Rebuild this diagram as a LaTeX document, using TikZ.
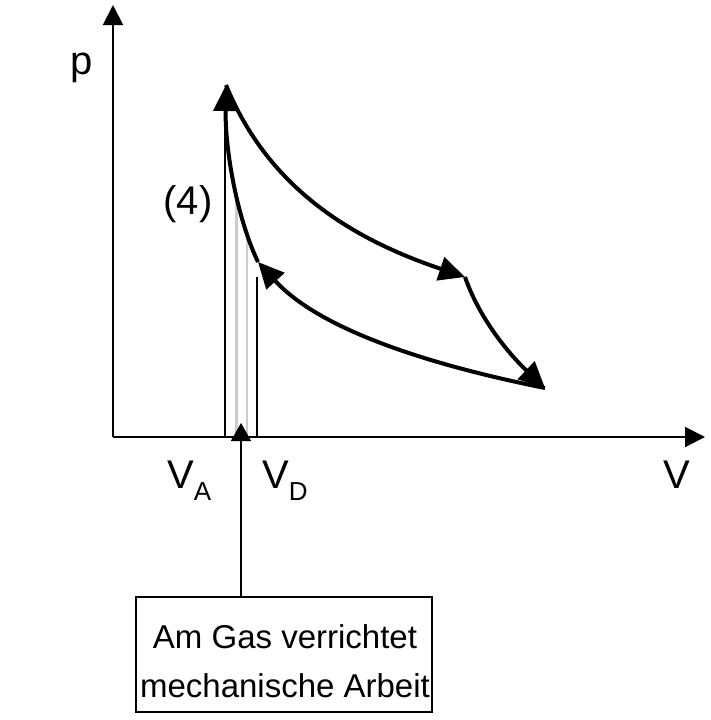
\documentclass[tikz,border=0pt]{standalone}
\usepackage{fontspec}
\setmainfont{Liberation Sans}
\usetikzlibrary{arrows.meta}
\tikzset{
  axisline/.style={line width=2pt,-{Triangle[length=20pt,width=20pt]}},
  cycleline/.style={line width=4pt,-{Triangle[length=26pt,width=24pt]}},
  symb/.style={font=\fontsize{40}{40}\selectfont,inner sep=0pt},
  boxtext/.style={font=\fontsize{33}{33}\selectfont,inner sep=0pt,anchor=base},
}
\begin{document}
\begin{tikzpicture}[x=1pt,y=-1pt]
\useasboundingbox (0,0) rectangle (711,720);
\coordinate (O) at (113,437);
\coordinate (ptop) at (113,5);
\coordinate (Vend) at (705,437);
\coordinate (A) at (226,85);
\coordinate (B) at (465,277);
\coordinate (C) at (545,388);
\coordinate (D) at (258,262);
\begin{scope}
\clip (D) .. controls (237,218) and (225,150) .. (A) -- (225,437) -- (258,437) -- cycle;
\draw[gray!40,line width=2.5pt] (236.5,0) -- (236.5,437) (247,0) -- (247,437);
\end{scope}
\draw[line width=1.5pt] (225,110) -- (225,437);
\draw[line width=1.5pt] (257,277) -- (257,437);
\draw[axisline] (O) -- (ptop);
\draw[axisline] (O) -- (Vend);
\draw[cycleline] (A) .. controls (265,180) and (340,235) .. (B);
\draw[cycleline] (B) .. controls (480,320) and (510,355) .. (C);
\draw[cycleline] (C) .. controls (430,365) and (320,330) .. (D);
\draw[cycleline] (D) .. controls (237,218) and (225,150) .. (A);
\node[symb,anchor=base] (plabel) at (82,74) {p};
\node[symb,anchor=base] (Vlabel) at (677,488) {V};
\node[symb,anchor=base west] (VA) at (167,488) {V\raisebox{-12pt}{\fontsize{26}{26}\selectfont A}};
\node[symb,anchor=base west] (VD) at (262,488) {V\raisebox{-12pt}{\fontsize{26}{26}\selectfont D}};
\node[symb,anchor=base] (four) at (188,214) {(4)};
\node[draw,line width=1.5pt,minimum width=296pt,minimum height=115pt,inner sep=0pt] (box) at (284,654.5) {};
\node[boxtext] (line1) at (285,648) {Am Gas verrichtet};
\node[boxtext] (line2) at (285,697) {mechanische Arbeit};
\coordinate (work) at (241,423);
\draw[line width=1.5pt,-{Triangle[length=18pt,width=20pt]}] (box.north -| work) -- (work);
\end{tikzpicture}
\end{document}
